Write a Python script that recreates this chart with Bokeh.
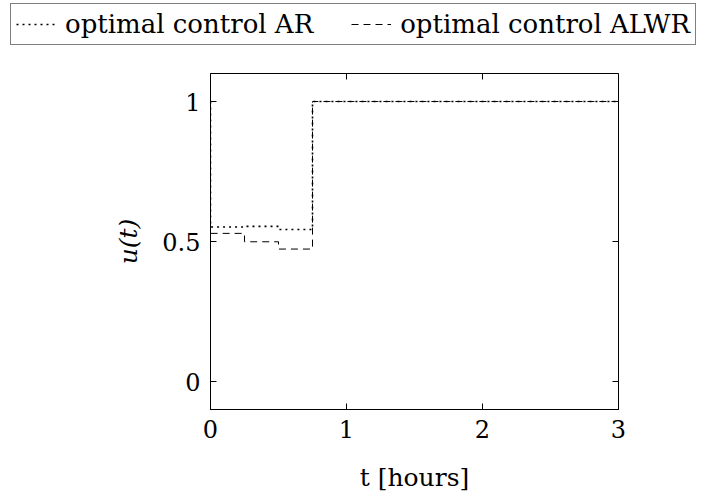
import math
from bokeh.plotting import figure
from bokeh.layouts import column
from bokeh.models import LinearAxis, FixedTicker, Legend, LegendItem
from bokeh.embed import file_html
from bokeh.resources import INLINE

# data
t_ar = [0, 0, 0.25, 0.5, 0.75, 3]
u_ar = [1, 0.552, 0.554, 0.543, 1, 1]
t_alwr = [0, 0, 0.25, 0.5, 0.75, 3]
u_alwr = [1, 0.529, 0.499, 0.473, 1, 1]
x_ticks = [0, 1, 2, 3]
y_ticks = [0, 0.5, 1]
y_tick_labels = {0: "0", 0.5: "0.5", 1: "1"}
series_names = ["optimal control AR", "optimal control ALWR"]
x_lim = (0, 3)
y_lim = (-0.1, 1.1)

FONT = "DejaVu Serif"
AR_STYLE = dict(line_color="black", line_width=1.6, line_dash="2 4")
ALWR_STYLE = dict(line_color="black", line_width=1, line_dash="7 5")

# ---- legend strip (proxy renderers lie outside its visible range) ----
leg = figure(width=724, height=50, output_backend="svg", toolbar_location=None,
             min_border=0, x_axis_location=None, y_axis_location=None,
             x_range=(0, 1), y_range=(0, 1))
leg.frame_align = False
leg.outline_line_color = None
leg.xgrid.visible = False
leg.ygrid.visible = False
d1 = leg.line([-2, -1], [-2, -2], **AR_STYLE)
d2 = leg.line([-2, -1], [-2, -2], **ALWR_STYLE)
legend = Legend(items=[LegendItem(label=series_names[0], renderers=[d1]),
                       LegendItem(label=series_names[1], renderers=[d2])],
                orientation="horizontal", location=(10, 5))
legend.label_text_font = FONT
legend.label_text_font_size = "26px"
legend.label_text_color = "black"
legend.glyph_width = 40
legend.label_standoff = 9
legend.spacing = 38
legend.padding = 5
legend.margin = 0
legend.border_line_color = "black"
legend.border_line_width = 1
legend.background_fill_alpha = 1
leg.add_layout(legend, "center")

# ---- main plot ----
p = figure(frame_width=408, frame_height=336, x_range=x_lim, y_range=y_lim,
           output_backend="svg", toolbar_location=None,
           min_border_left=210, min_border_right=98, min_border_top=23, min_border_bottom=80,
           x_axis_location=None, y_axis_location=None)
p.frame_align = False
p.background_fill_color = "white"
p.border_fill_color = "white"
p.outline_line_color = "black"
p.outline_line_width = 1
p.xgrid.visible = False
p.ygrid.visible = False

def style_axis(ax):
    ax.axis_line_color = "black"
    ax.major_tick_in = 6
    ax.major_tick_out = 0
    ax.major_tick_line_color = "black"
    ax.minor_tick_line_color = None
    ax.major_label_text_font = FONT
    ax.major_label_text_font_size = "24px"
    ax.major_label_text_color = "black"
    ax.major_label_standoff = 10
    ax.axis_label_text_font = FONT
    ax.axis_label_text_font_size = "25px"
    ax.axis_label_text_color = "black"

xb = LinearAxis(ticker=FixedTicker(ticks=x_ticks), axis_label="t [hours]")
style_axis(xb)
xb.axis_label_text_font_style = "normal"
xb.axis_label_standoff = 22
yl = LinearAxis(ticker=FixedTicker(ticks=y_ticks), axis_label="u(t)",
                major_label_overrides=y_tick_labels)
style_axis(yl)
yl.axis_label_text_font_style = "italic"
yl.axis_label_standoff = 16
p.add_layout(xb, "below")
p.add_layout(yl, "left")

# inward ticks on top and right edges (outer half clipped by the frame)
p.scatter(x_ticks, [y_lim[1]] * len(x_ticks), marker="dash", size=12, angle=math.pi / 2,
          line_color="black", line_width=1)
p.scatter([x_lim[1]] * len(y_ticks), y_ticks, marker="dash", size=12,
          line_color="black", line_width=1)

p.step(t_ar, u_ar, mode="after", **AR_STYLE)
p.step(t_alwr, u_alwr, mode="after", **ALWR_STYLE)

layout = column(leg, p, spacing=0)
open("out.html", "w").write(file_html(layout, INLINE))
